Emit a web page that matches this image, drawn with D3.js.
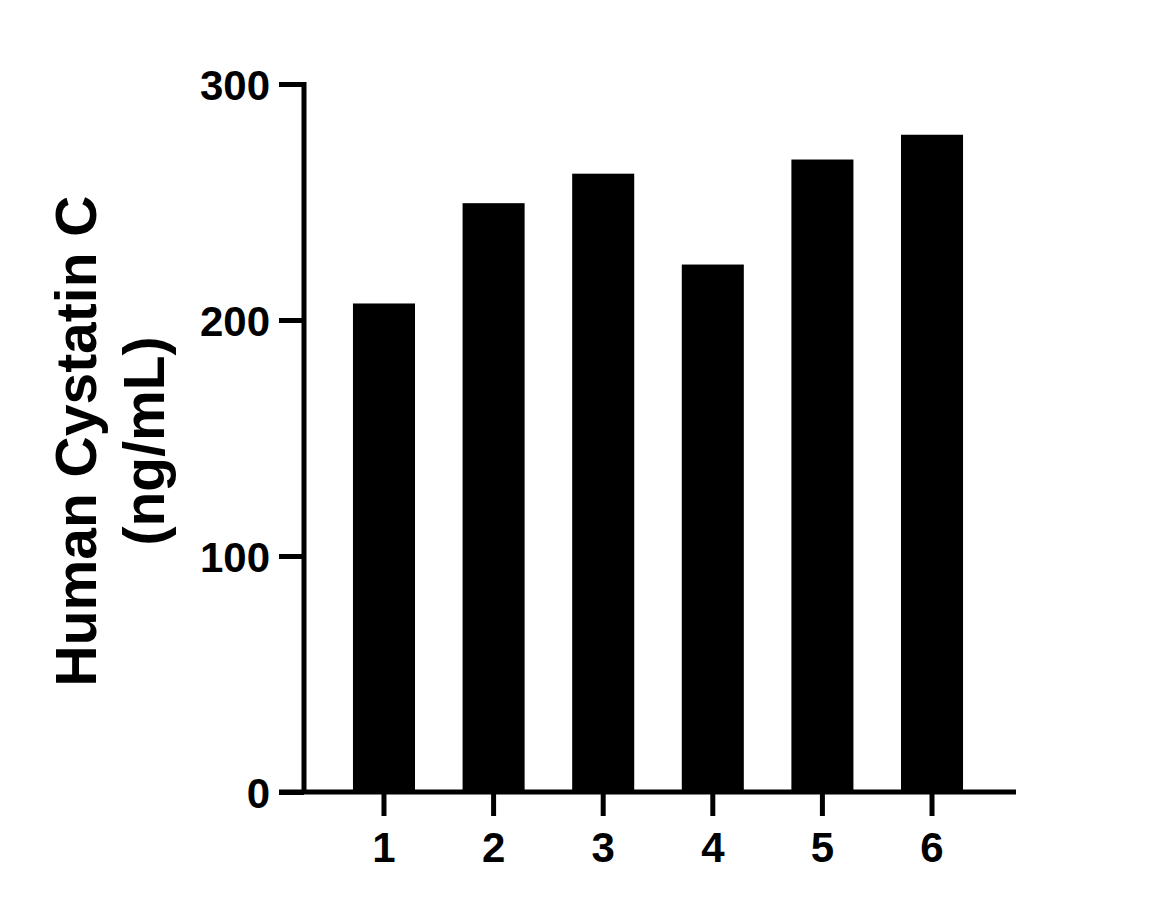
<!DOCTYPE html>
<html>
<head>
<meta charset="utf-8">
<script src="https://cdn.jsdelivr.net/npm/d3@7"></script>
<style>
  html, body { margin: 0; padding: 0; background: #fff; }
  svg { display: block; }
  text { font-family: "Liberation Sans", Arial, Helvetica, sans-serif; font-weight: bold; fill: #000; }
</style>
</head>
<body>
<svg id="chart" width="1151" height="908"></svg>
<script>
const categories = ["1", "2", "3", "4", "5", "6"];
const values = [207, 249.5, 262, 223.5, 268, 278.5];
const yTicks = [0, 100, 200, 300];
const titleLines = ["Human Cystatin C", "(ng/mL)"];

const svg = d3.select("#chart");
const yAxisX = 304, axisRight = 1016, y0 = 792, yTop = 84;

const x = d3.scaleBand().domain(categories).range([yAxisX - 2, axisRight - 2])
  .paddingInner(0.434).paddingOuter(0.465);
const y = d3.scaleLinear().domain([0, 300]).range([y0, yTop]);

// bars
svg.append("g").selectAll("rect").data(categories).join("rect")
  .attr("x", d => x(d))
  .attr("width", x.bandwidth())
  .attr("y", (d, i) => y(values[i]))
  .attr("height", (d, i) => y0 - y(values[i]))
  .attr("fill", "#000");

// y axis
const yAxis = svg.append("g").attr("transform", `translate(${yAxisX},0)`)
  .call(d3.axisLeft(y).tickValues(yTicks).tickSize(25).tickPadding(9).tickSizeOuter(0));
yAxis.select(".domain").remove();
yAxis.selectAll(".tick line").attr("stroke", "#000").attr("stroke-width", 5);
yAxis.selectAll(".tick text").attr("font-size", 42).attr("dy", "0.36em")
  .style("font-family", '"Liberation Sans", Arial, sans-serif').style("font-weight", "bold");
yAxis.append("line").attr("x1", 0).attr("x2", 0).attr("y1", y(300) - 2).attr("y2", y0)
  .attr("stroke", "#000").attr("stroke-width", 5);

// x axis
const xAxis = svg.append("g").attr("transform", `translate(0,${y0})`)
  .call(d3.axisBottom(x).tickSize(24).tickPadding(16).tickSizeOuter(0));
xAxis.select(".domain").remove();
xAxis.selectAll(".tick line").attr("stroke", "#000").attr("stroke-width", 5);
xAxis.selectAll(".tick text").attr("font-size", 42)
  .style("font-family", '"Liberation Sans", Arial, sans-serif').style("font-weight", "bold");
xAxis.append("line").attr("x1", yAxisX - 25).attr("x2", axisRight).attr("y1", 0).attr("y2", 0)
  .attr("stroke", "#000").attr("stroke-width", 5);

// y title
const title = svg.append("text")
  .attr("transform", "translate(0,441) rotate(-90)")
  .attr("text-anchor", "middle")
  .attr("font-size", 57);
title.selectAll("tspan").data(titleLines).join("tspan")
  .attr("x", 0)
  .attr("y", (d, i) => i === 0 ? 96 : 164)
  .text(d => d);
</script>
</body>
</html>
